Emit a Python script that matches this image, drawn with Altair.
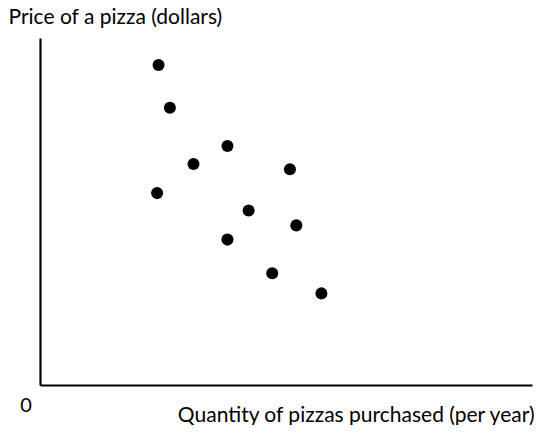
import altair as alt
import pandas as pd

quantity = [24.1, 26.4, 38.1, 31.2, 50.8, 23.8, 42.4, 52.1, 38.1, 47.2, 57.2]
price = [92.2, 79.9, 68.9, 63.7, 62.2, 55.3, 50.3, 46.0, 41.9, 32.2, 26.4]

x_title = "Quantity of pizzas purchased (per year)"
y_title = "Price of a pizza (dollars)"
origin_label = ["0"]

df = pd.DataFrame({"q": quantity, "p": price})
FONT = "Lato"

x_scale = alt.Scale(domain=[0, 100], nice=False, zero=True)
y_scale = alt.Scale(domain=[0, 100], nice=False, zero=True)

points = alt.Chart(df).mark_circle(size=145, color="black", opacity=1).encode(
    x=alt.X("q:Q", scale=x_scale,
            axis=alt.Axis(title=x_title, ticks=False, labels=False, grid=False,
                          domainColor="black", domainWidth=2.2,
                          titleFont=FONT, titleFontSize=21, titleFontWeight="normal",
                          titleColor="black", titleAnchor="end", titleAlign="right",
                          titleX=494, titleY=36, titleBaseline="alphabetic")),
    y=alt.Y("p:Q", scale=y_scale,
            axis=alt.Axis(title=y_title, ticks=False, labels=False, grid=False,
                          domainColor="black", domainWidth=2.2,
                          titleFont=FONT, titleFontSize=21, titleFontWeight="normal",
                          titleColor="black", titleAngle=0, titleAlign="left",
                          titleX=-32, titleY=-15, titleBaseline="alphabetic")),
)

zero = alt.Chart(pd.DataFrame({"t": origin_label, "x": [0], "y": [0]})).mark_text(
    font=FONT, fontSize=20, color="black", align="center", baseline="middle",
    dx=-14, dy=21
).encode(x=alt.X("x:Q", scale=x_scale), y=alt.Y("y:Q", scale=y_scale), text="t:N")

chart = alt.layer(points, zero).properties(
    width=492, height=347,
    background="white",
    autosize=alt.AutoSizeParams(type="none"),
    padding={"left": 32, "top": 30, "right": 3, "bottom": 40},
).configure_view(stroke=None, strokeWidth=0)

chart.save("out.html", embed_options={"renderer": "svg", "actions": False})
